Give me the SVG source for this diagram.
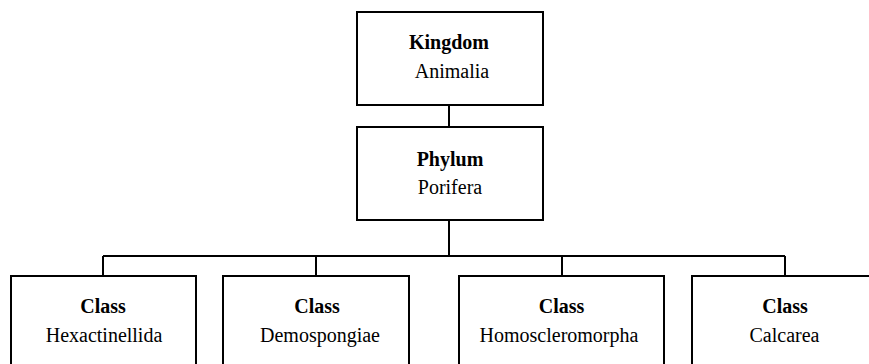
<svg xmlns="http://www.w3.org/2000/svg" width="869" height="364" viewBox="0 0 869 364">
<style>
.box{fill:#fff;stroke:#000;stroke-width:2}
.ln{stroke:#000;stroke-width:2;fill:none}
text{font-family:"Liberation Serif","Times New Roman",serif;font-size:20px;fill:#000;text-anchor:middle}
.b{font-weight:bold}
</style>
<rect width="869" height="364" fill="#fff"/>
<g id="connectors">
<path class="ln" d="M449 105V127M449 220V256M103 256H785M103 256V276M316 256V276M562 256V276M785 256V276"/>
</g>
<g id="kingdom">
<rect class="box" x="357" y="12" width="186" height="93"/>
<text class="b" x="449" y="49">Kingdom</text>
<text x="452" y="78">Animalia</text>
</g>
<g id="phylum">
<rect class="box" x="357" y="127" width="186" height="93"/>
<text class="b" x="450" y="166">Phylum</text>
<text x="450" y="194">Porifera</text>
</g>
<g id="class1">
<rect class="box" x="11" y="276" width="185" height="100"/>
<text class="b" x="103" y="313">Class</text>
<text x="104" y="342">Hexactinellida</text>
</g>
<g id="class2">
<rect class="box" x="223" y="276" width="186" height="100"/>
<text class="b" x="317" y="313">Class</text>
<text x="320" y="342">Demospongiae</text>
</g>
<g id="class3">
<rect class="box" x="459" y="276" width="205" height="100"/>
<text class="b" x="561.5" y="313">Class</text>
<text x="559" y="342">Homoscleromorpha</text>
</g>
<g id="class4">
<rect class="box" x="692" y="276" width="186" height="100"/>
<text class="b" x="785" y="313">Class</text>
<text x="784.5" y="342">Calcarea</text>
</g>
</svg>
